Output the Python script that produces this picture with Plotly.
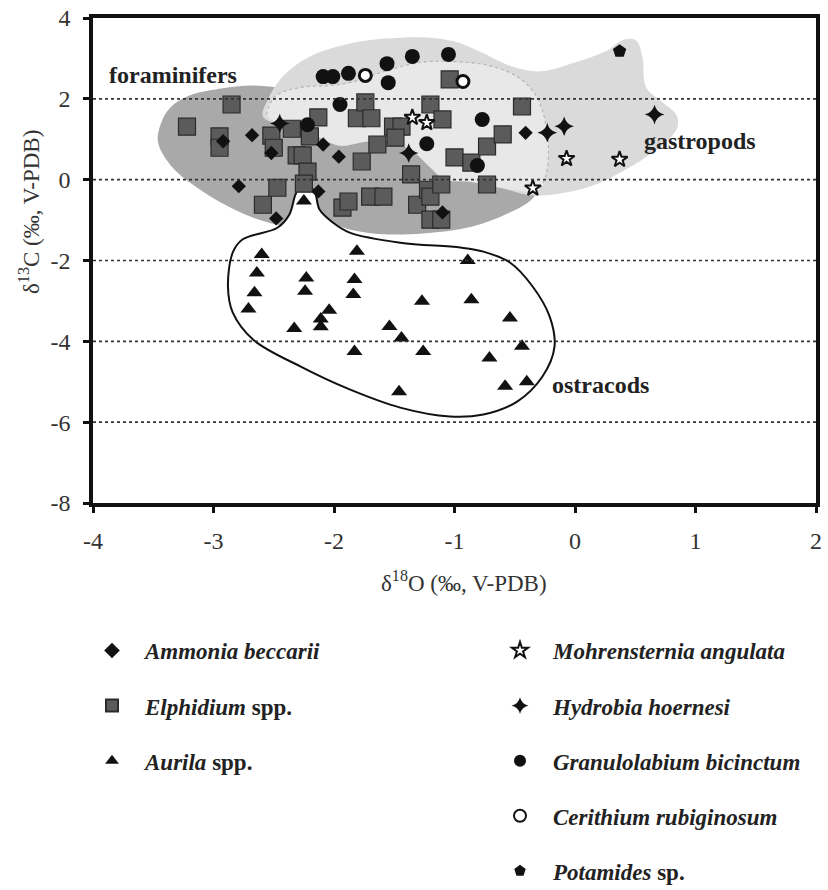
import plotly.graph_objects as go

# ---------------- data (delta18O, delta13C; per mil V-PDB) ----------------
ammonia_x = [-2.92, -2.68, -2.52, -2.79, -2.48, -2.13, -2.09, -1.96, -1.10, -0.41]
ammonia_y = [0.95, 1.10, 0.66, -0.16, -0.96, -0.29, 0.87, 0.57, -0.81, 1.16]

elphidium_x = [-3.22, -2.95, -2.95, -2.85, -2.59, -2.52, -2.50, -2.47, -2.35, -2.31,
               -2.26, -2.22, -2.25, -2.20, -2.13, -1.93, -1.88, -1.81, -1.74, -1.69,
               -1.77, -1.64, -1.70, -1.59, -1.51, -1.44, -1.49, -1.36, -1.31, -1.22,
               -1.20, -1.20, -1.11, -1.11, -1.20, -1.10, -1.04, -1.00, -0.86, -0.73,
               -0.60, -0.73, -0.44]
elphidium_y = [1.31, 1.07, 0.79, 1.86, -0.62, 1.09, 0.79, -0.20, 1.26, 0.60,
               0.60, 0.20, -0.10, 1.07, 1.54, -0.69, -0.54, 1.52, 1.91, 1.52,
               0.45, 0.87, -0.42, -0.42, 1.31, 1.31, 1.04, 0.13, -0.62, -0.25,
               -0.42, -0.99, -0.99, -0.12, 1.86, 1.49, 2.48, 0.55, 0.42, 0.82,
               1.12, -0.12, 1.81]

aurila_x = [-2.60, -1.81, -2.64, -2.23, -1.83, -2.66, -2.24, -1.84, -2.71, -2.04,
            -2.11, -2.11, -2.33, -1.54, -1.44, -1.83, -1.27, -1.26, -1.46, -0.89,
            -0.86, -0.54, -0.44, -0.71, -0.58, -0.40, -2.25]
aurila_y = [-1.85, -1.77, -2.31, -2.43, -2.47, -2.80, -2.76, -2.84, -3.20, -3.23,
            -3.45, -3.64, -3.68, -3.63, -3.92, -4.25, -3.01, -4.25, -5.25, -2.00,
            -2.97, -3.42, -4.12, -4.41, -5.11, -5.00, -0.53]

mohrensternia_x = [-1.35, -1.23, -0.35, -0.07, 0.37]
mohrensternia_y = [1.54, 1.41, -0.21, 0.52, 0.50]

hydrobia_x = [-2.45, -1.38, -0.23, -0.09, 0.66]
hydrobia_y = [1.39, 0.66, 1.16, 1.32, 1.61]

granulolabium_x = [-2.09, -2.01, -1.88, -1.56, -1.55, -1.35, -1.05, -1.95, -2.22, -1.23, -0.77, -0.81]
granulolabium_y = [2.55, 2.55, 2.63, 2.87, 2.40, 3.05, 3.10, 1.86, 1.36, 0.89, 1.49, 0.35]

cerithium_x = [-1.74, -0.93]
cerithium_y = [2.58, 2.43]

potamides_x = [0.37]
potamides_y = [3.18]

# ---------------- group envelopes ----------------
foram_env_x = [-3.46, -3.44, -3.36, -3.20, -2.95, -2.66, -2.37, -2.03, -1.45, -0.79, -0.33,
               -0.27, -0.36, -0.56, -0.85, -1.26, -1.68, -1.95, -2.13, -2.28, -2.41, -2.60,
               -2.84, -3.11, -3.34]
foram_env_y = [0.92, 1.36, 1.78, 2.08, 2.25, 2.33, 2.23, 1.98, 1.61, 0.99, 0.37,
               -0.05, -0.49, -0.84, -1.16, -1.33, -1.33, -1.16, -0.86, -0.79, -1.11, -1.01,
               -0.72, -0.25, 0.30]

gastro_env_x = [-2.59, -2.55, -2.41, -2.20, -1.91, -1.58, -1.24, -1.00, -0.79, -0.54, -0.29,
                0.00, 0.25, 0.41, 0.51, 0.56, 0.59, 0.72, 0.84, 0.85, 0.77, 0.61, 0.41,
                0.19, -0.08, -0.36, -0.62, -0.87, -1.08, -1.20, -1.37, -1.58, -1.78, -1.95,
                -2.20, -2.43]
gastro_env_y = [1.56, 1.98, 2.60, 3.05, 3.34, 3.49, 3.52, 3.42, 3.17, 2.82, 2.68,
                2.90, 3.17, 3.47, 3.44, 3.02, 2.28, 1.93, 1.61, 1.29, 0.97, 0.60, 0.23,
                -0.10, -0.32, -0.39, -0.20, -0.05, 0.00, 0.30, 0.75, 0.99, 0.92, 0.84,
                1.14, 1.34]

inner_env_x = [-2.56, -2.49, -2.28, -2.03, -1.83, -1.58, -1.29, -1.00, -0.71, -0.48, -0.33,
               -0.25, -0.22, -0.24, -0.29, -0.62, -0.87, -1.08, -1.20, -1.37, -1.58, -1.78,
               -1.95, -2.20, -2.43]
inner_env_y = [1.61, 2.06, 2.28, 2.33, 2.43, 2.68, 2.90, 2.92, 2.82, 2.55, 2.11,
               1.49, 0.75, 0.13, -0.25, -0.20, -0.05, 0.00, 0.30, 0.75, 0.99, 0.92,
               0.84, 1.14, 1.34]

ostra_env_x = [-2.28, -2.17, -2.12, -2.01, -1.87, -1.45, -0.95, -0.76, -0.54, -0.35, -0.21,
               -0.17, -0.27, -0.48, -0.76, -1.04, -1.45, -1.87, -2.28, -2.67, -2.84, -2.88,
               -2.84, -2.76, -2.47, -2.37, -2.32]
ostra_env_y = [-0.17, -0.25, -0.74, -1.06, -1.31, -1.56, -1.68, -1.78, -2.05, -2.65, -3.39,
               -4.13, -4.87, -5.49, -5.81, -5.86, -5.64, -5.19, -4.62, -3.96, -3.29, -2.65,
               -1.80, -1.48, -1.19, -0.86, -0.37]

x_ticks = [-4, -3, -2, -1, 0, 1, 2]
x_ticktext = ["-4", "-3", "-2", "-1", "0", "1", "2"]
y_ticks = [-8, -6, -4, -2, 0, 2, 4]
y_ticktext = ["-8", "-6", "-4", "-2", "0", "2", "4"]
dotted_levels = [2, 0, -2, -4, -6]

# ---------------- styling ----------------
SERIF = "Liberation Serif"
INK = "#222222"
W, H = 828, 890
L, R, T, B = 93, 12, 18, 387


def px_x(px):
    return (px - L) / (W - L - R)


def px_y(py):
    return (H - B - py) / (H - T - B)


fig = go.Figure()


def envelope(xs, ys, fill, line_color=None, line_width=0):
    fig.add_trace(go.Scatter(
        x=xs + xs[:1], y=ys + ys[:1], mode="lines", fill="toself",
        fillcolor=fill, hoverinfo="skip", showlegend=False,
        line=dict(color=line_color or fill, width=line_width, shape="spline", smoothing=1.0),
    ))


envelope(foram_env_x, foram_env_y, "#a9a9a9")
envelope(gastro_env_x, gastro_env_y, "#dadada")
envelope(inner_env_x, inner_env_y, "#e8e8e8")
fig.add_trace(go.Scatter(
    x=inner_env_x[:15], y=inner_env_y[:15], mode="lines", hoverinfo="skip", showlegend=False,
    line=dict(color="#b4b4b4", width=1.2, dash="dot", shape="spline", smoothing=1.0),
))
envelope(ostra_env_x, ostra_env_y, "#ffffff", line_color="#111111", line_width=2)


def species(xs, ys, name, legend, rank, symbol, size, color, line_color="#000", line_width=0):
    fig.add_trace(go.Scatter(
        x=xs, y=ys, mode="markers", name=name, legend=legend, legendrank=rank,
        legendgroup=name,
        marker=dict(symbol=symbol, size=size, color=color,
                    line=dict(color=line_color, width=line_width)),
    ))


species(elphidium_x, elphidium_y, "<i>Elphidium</i> spp.", "legend", 2,
        "square", 17, "#5b5b5b", "#2b2b2b", 1.2)
species(ammonia_x, ammonia_y, "<i>Ammonia beccarii</i>", "legend", 1,
        "diamond", 11, "#111111")
species(aurila_x, aurila_y, "<i>Aurila</i> spp.", "legend", 3,
        "triangle-up", 14, "#111111")
species(granulolabium_x, granulolabium_y, "<i>Granulolabium bicinctum</i>", "legend2", 3,
        "circle", 15, "#111111")
species(cerithium_x, cerithium_y, "<i>Cerithium rubiginosum</i>", "legend2", 4,
        "circle", 12, "#ffffff", "#111111", 3)
species(mohrensternia_x, mohrensternia_y, "<i>Mohrensternia angulata</i>", "legend2", 1,
        "star", 12, "#ffffff", "#111111", 2)
species(hydrobia_x, hydrobia_y, "<i>Hydrobia hoernesi</i>", "legend2", 2,
        "star-diamond", 14, "#111111")
species(potamides_x, potamides_y, "<i>Potamides</i> sp.", "legend2", 5,
        "pentagon", 14, "#111111")

# dotted reference lines drawn over the envelopes
for lvl in dotted_levels:
    fig.add_shape(type="line", xref="paper", x0=0, x1=1, yref="y", y0=lvl, y1=lvl,
                  layer="above", line=dict(color="#333333", width=1.6, dash="dot"))

label_font = dict(family=SERIF, size=24, color=INK, weight="bold")
fig.add_annotation(x=-3.88, y=2.60, text="foraminifers", showarrow=False,
                   xanchor="left", yanchor="middle", font=label_font)
fig.add_annotation(x=0.56, y=0.95, text="gastropods", showarrow=False,
                   xanchor="left", yanchor="middle", font=label_font)
fig.add_annotation(x=-0.21, y=-5.07, text="ostracods", showarrow=False,
                   xanchor="left", yanchor="middle", font=label_font)

title_font = dict(family=SERIF, size=23, color="#333333")
fig.add_annotation(xref="paper", yref="paper", x=px_x(464), y=px_y(581),
                   text="δ<sup>18</sup>O (‰, V-PDB)", showarrow=False,
                   xanchor="center", yanchor="middle", font=title_font)
fig.add_annotation(xref="paper", yref="paper", x=px_x(29), y=px_y(212),
                   text="δ<sup>13</sup>C (‰, V-PDB)", showarrow=False, textangle=-90,
                   xanchor="center", yanchor="middle", font=title_font)

tick_font = dict(family=SERIF, size=24, color="#333333")
axis_common = dict(
    showgrid=False, zeroline=False, showline=True, mirror=True,
    linecolor="#111111", linewidth=3.5, ticks="outside", ticklen=6, tickwidth=3,
    tickcolor="#111111", tickfont=tick_font, tickmode="array",
)
fig.update_xaxes(range=[-4, 2], tickvals=x_ticks, ticktext=x_ticktext,
                 ticklabelstandoff=7, **axis_common)
fig.update_yaxes(range=[-8, 4], tickvals=y_ticks, ticktext=y_ticktext,
                 ticklabelstandoff=8, **axis_common)

legend_common = dict(
    xanchor="left", yanchor="top", itemwidth=56, tracegroupgap=22.2,
    traceorder="grouped", bgcolor="rgba(0,0,0,0)", itemsizing="constant",
    font=dict(family=SERIF, size=23, color=INK, weight="bold"),
)
fig.update_layout(
    width=W, height=H,
    margin=dict(l=L, r=R, t=T, b=B, autoexpand=False),
    paper_bgcolor="white", plot_bgcolor="white",
    legend=dict(x=px_x(79), y=px_y(629), **legend_common),
    legend2=dict(x=px_x(487), y=px_y(629), **legend_common),
)

fig.write_html("out.html")
